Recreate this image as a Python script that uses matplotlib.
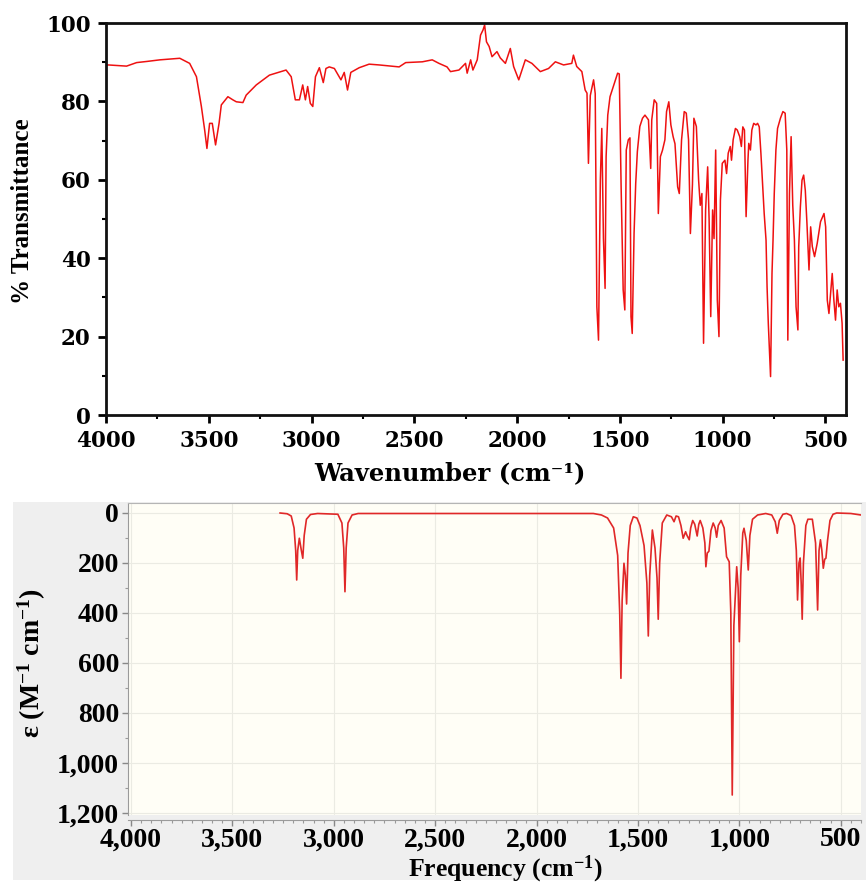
import matplotlib
matplotlib.use("Agg")
import matplotlib.pyplot as plt
from matplotlib.patches import Rectangle
from matplotlib.ticker import MultipleLocator, FuncFormatter

# ---------------- data: experimental FT-IR (top) ----------------
ir_wavenumber = [4000, 3989, 3900, 3851, 3800, 3738, 3641, 3593, 3560, 3536, 3520, 3509, 3496, 3483,
                 3467, 3450, 3439, 3407, 3383, 3366, 3334, 3318, 3269, 3205, 3124, 3099, 3079, 3059,
                 3043, 3030, 3019, 3006, 2994, 2981, 2962, 2943, 2930, 2914, 2889, 2857, 2841, 2825,
                 2809, 2768, 2720, 2671, 2574, 2542, 2461, 2413, 2380, 2341, 2324, 2283, 2251, 2243,
                 2226, 2215, 2194, 2178, 2166, 2158, 2149, 2136, 2122, 2098, 2082, 2057, 2033, 2017,
                 1992, 1960, 1928, 1887, 1847, 1814, 1774, 1734, 1726, 1710, 1685, 1669, 1660, 1653,
                 1644, 1628, 1620, 1612, 1604, 1595, 1588, 1580, 1572, 1567, 1559, 1548, 1532, 1511,
                 1503, 1494, 1484, 1476, 1469, 1459, 1451, 1446, 1440, 1431, 1423, 1415, 1403, 1390,
                 1378, 1361, 1350, 1345, 1333, 1321, 1313, 1303, 1293, 1281, 1273, 1262, 1252, 1241,
                 1232, 1219, 1211, 1200, 1187, 1177, 1166, 1157, 1147, 1140, 1128, 1117, 1109, 1101,
                 1093, 1083, 1073, 1066, 1058, 1049, 1042, 1034, 1026, 1018, 1011, 1002, 989, 981,
                 973, 963, 957, 949, 938, 929, 917, 909, 902, 894, 886, 877, 873, 865, 858, 849,
                 838, 830, 822, 814, 806, 798, 789, 784, 778, 767, 760, 755, 749, 741, 733, 719,
                 707, 696, 688, 683, 675, 667, 659, 651, 643, 634, 630, 622, 614, 606, 598, 590,
                 580, 572, 564, 553, 540, 524, 507, 499, 491, 483, 475, 467, 459, 451, 443, 435,
                 427, 419, 414]
ir_transmittance = [89.2, 89.3, 89.0, 89.9, 90.2, 90.6, 91.0, 89.7, 86.3, 78.7, 72.7, 68.0, 74.4, 74.4,
                    68.9, 74.4, 79.1, 81.2, 80.4, 79.9, 79.7, 81.6, 84.2, 86.7, 88.0, 86.3, 80.4, 80.4,
                    84.2, 80.4, 83.8, 79.5, 78.7, 86.3, 88.6, 84.8, 88.4, 88.8, 88.4, 85.5, 87.4, 82.9,
                    87.4, 88.6, 89.5, 89.3, 88.8, 89.9, 90.1, 90.6, 89.7, 88.8, 87.6, 88.0, 89.7, 87.2,
                    90.6, 88.0, 90.6, 96.9, 98.2, 99.5, 95.2, 94.0, 91.4, 92.7, 91.1, 89.7, 93.5, 88.9,
                    85.5, 90.6, 89.7, 87.6, 88.4, 90.1, 89.3, 89.7, 91.8, 88.9, 87.6, 82.9, 82.1, 64.2,
                    81.5, 85.5, 82.0, 27.6, 19.1, 60.0, 73.1, 45.0, 32.3, 65.9, 76.5, 81.2, 83.8, 87.2,
                    87.0, 58.2, 31.9, 26.8, 67.6, 70.2, 70.7, 25.1, 20.8, 46.4, 59.1, 67.2, 73.6, 75.7,
                    76.5, 75.3, 62.9, 75.3, 80.4, 79.5, 51.4, 65.9, 67.5, 70.2, 77.4, 79.9, 74.0, 71.0,
                    69.2, 58.2, 56.5, 70.2, 77.4, 77.0, 70.2, 46.3, 58.8, 75.7, 73.6, 59.9, 53.5, 56.5,
                    18.3, 52.3, 63.3, 50.0, 25.1, 52.3, 45.0, 67.6, 29.3, 20.0, 54.8, 64.2, 65.0, 61.6,
                    66.8, 68.5, 65.0, 70.2, 73.1, 72.7, 71.0, 68.5, 73.5, 72.7, 50.6, 65.0, 69.3, 67.6, 72.7, 74.4,
                    74.0, 74.4, 73.5, 66.8, 59.1, 51.4, 44.6, 32.7, 23.4, 9.8, 36.1, 44.6, 56.5, 67.6, 73.1, 75.7,
                    77.4, 77.0, 67.6, 19.1, 56.5, 71.0, 53.5, 44.6, 27.6, 21.7, 42.9, 53.1, 59.9, 61.2, 57.3, 48.9,
                    37.0, 48.0, 43.0, 40.4, 43.8, 49.3, 51.4, 48.0, 29.3, 25.9, 31.1, 36.1, 29.3, 24.2, 31.9, 27.6,
                    28.5, 23.4, 14.0]

# ---------------- data: computed IR spectrum (bottom) ----------------
calc_frequency = [3265, 3230, 3210, 3196, 3188, 3183, 3178, 3170, 3160, 3153, 3146, 3135, 3115, 3080,
                  2980, 2960, 2951, 2945, 2939, 2930, 2910, 2880, 1720, 1680, 1650, 1620, 1600, 1590,
                  1584, 1578, 1569, 1562, 1556, 1549, 1538, 1523, 1505, 1490, 1470, 1456, 1449, 1442,
                  1429, 1416, 1406, 1400, 1393, 1380, 1358, 1335, 1322, 1312, 1300, 1288, 1277, 1265,
                  1258, 1247, 1240, 1230, 1220, 1208, 1200, 1193, 1180, 1170, 1165, 1158, 1150, 1140,
                  1129, 1119, 1112, 1104, 1090, 1075, 1063, 1050, 1042, 1035, 1027, 1013, 1006, 1000,
                  993, 983, 977, 966, 956, 948, 935, 910, 870, 840, 823, 813, 803, 785, 767, 745,
                  728, 719, 713, 706, 700, 695, 690, 684, 672, 662, 640, 624, 614, 607, 600, 593,
                  586, 579, 573, 565, 553, 538, 520, 450, 400]
calc_epsilon = [0, 3, 12, 60, 150, 268, 150, 101, 150, 181, 90, 25, 6, 2,
                5, 40, 140, 315, 140, 40, 8, 2, 2, 8, 20, 60, 170, 400,
                661, 350, 201, 250, 364, 160, 50, 15, 20, 50, 130, 280, 492, 250,
                68, 140, 260, 425, 200, 40, 8, 15, 35, 12, 15, 50, 101, 75,
                90, 107, 60, 30, 45, 92, 45, 30, 60, 120, 215, 160, 153, 70,
                40, 60, 97, 50, 30, 60, 175, 195, 400, 1128, 450, 215, 300, 515,
                250, 80, 61, 110, 228, 90, 25, 8, 2, 8, 35, 81, 30, 5, 2, 10,
                50, 150, 348, 200, 180, 280, 425, 200, 50, 25, 25, 120, 388, 150, 107, 150,
                221, 185, 181, 110, 30, 5, 0, 2, 8]

top_xticks = [4000, 3500, 3000, 2500, 2000, 1500, 1000, 500]
top_yticks = [0, 20, 40, 60, 80, 100]
bottom_xticks = [4000, 3500, 3000, 2500, 2000, 1500, 1000, 500]
bottom_yticks = [0, 200, 400, 600, 800, 1000, 1200]

plt.rcParams["font.family"] = ["Liberation Serif", "DejaVu Serif"]
plt.rcParams["font.weight"] = "bold"
plt.rcParams["mathtext.fontset"] = "custom"
plt.rcParams["mathtext.rm"] = "Liberation Serif:bold"
plt.rcParams["mathtext.bf"] = "Liberation Serif:bold"
plt.rcParams["mathtext.it"] = "Liberation Serif:bold"

W, H = 866, 883
fig = plt.figure(figsize=(W / 100, H / 100), dpi=100)
fig.patch.set_facecolor("white")

def fx(px):
    return px / W

def fy(py):
    return 1 - py / H

# gray panel behind the computed spectrum
fig.patches.append(Rectangle((fx(13), fy(880)), fx(866 - 13), (880 - 502) / H,
                             transform=fig.transFigure, facecolor="#efefef",
                             edgecolor="none", zorder=-10))

# ---------------- top panel ----------------
ax1 = fig.add_axes([fx(106), fy(415), fx(846 - 106), (415 - 23) / H])
ax1.plot(ir_wavenumber, ir_transmittance, color="#ee1111", lw=1.1)
ax1.set_xlim(4000, 400)
ax1.set_ylim(0, 100)
ax1.set_xticks(top_xticks)
ax1.set_yticks(top_yticks)
ax1.xaxis.set_minor_locator(MultipleLocator(250))
ax1.yaxis.set_minor_locator(MultipleLocator(10))
for s in ax1.spines.values():
    s.set_linewidth(2.0)
    s.set_color("#111111")
ax1.tick_params(axis="both", which="major", direction="out", length=6, width=2, pad=5,
                labelsize=15.5, labelfontfamily="DejaVu Serif")
ax1.tick_params(axis="both", which="minor", direction="out", length=3, width=1.5)
ax1.tick_params(top=False, right=False)

fig.text(fx(23), fy(211), "% Transmittance", rotation=90, ha="center", va="center",
         family="Liberation Serif", fontweight="bold", fontsize=18)
fig.text(fx(450), fy(473), "Wavenumber (cm\u207b\u00b9)", ha="center", va="center",
         family="DejaVu Serif", fontweight="bold", fontsize=17.5)

# ---------------- bottom panel ----------------
ax2 = fig.add_axes([fx(128), fy(815), fx(861 - 128), (815 - 503) / H])
ax2.set_zorder(2)
ax2.set_facecolor("#fffef6")
ax2.plot(calc_frequency, calc_epsilon, color="#e02828", lw=1.2)
ax2.set_xlim(4015, 400)
ax2.set_ylim(1208, -40)
ax2.set_xticks(bottom_xticks)
ax2.set_yticks(bottom_yticks)
ax2.xaxis.set_minor_locator(MultipleLocator(50))
ax2.yaxis.set_minor_locator(MultipleLocator(100))
ax2.xaxis.set_major_formatter(FuncFormatter(lambda v, p: f"{v:,.0f}"))
ax2.yaxis.set_major_formatter(FuncFormatter(lambda v, p: f"{v:,.0f}"))
ax2.grid(True, which="major", color="#ebebe3", lw=0.8)
ax2.set_axisbelow(True)
ax2.spines["right"].set_visible(False)
ax2.spines["top"].set_color("#b5b5b5")
ax2.spines["left"].set_color("#9a9a9a")
ax2.spines["bottom"].set_color("#9a9a9a")
ax2.spines["bottom"].set_position(("outward", 3.5))
ax2.tick_params(axis="both", which="major", direction="out", length=4, width=1,
                color="#888888", pad=2.5, labelsize=20, labelfontfamily="Liberation Serif")
ax2.tick_params(axis="x", which="major", pad=1.5)
ax2.tick_params(axis="both", which="minor", direction="out", length=2, width=0.8,
                color="#999999")

fig.text(fx(32), fy(663), r"ε (M$^{-1}$ cm$^{-1}$)", rotation=90, ha="center", va="center",
         family=["Liberation Serif", "DejaVu Serif"], fontweight="bold", fontsize=20,
         zorder=5)
fig.text(fx(505), fy(869), r"Frequency (cm$^{-1}$)", ha="center", va="center",
         family="Liberation Serif", fontweight="bold", fontsize=18.5, zorder=5)

fig.savefig("out.png", dpi=100, facecolor="white")
